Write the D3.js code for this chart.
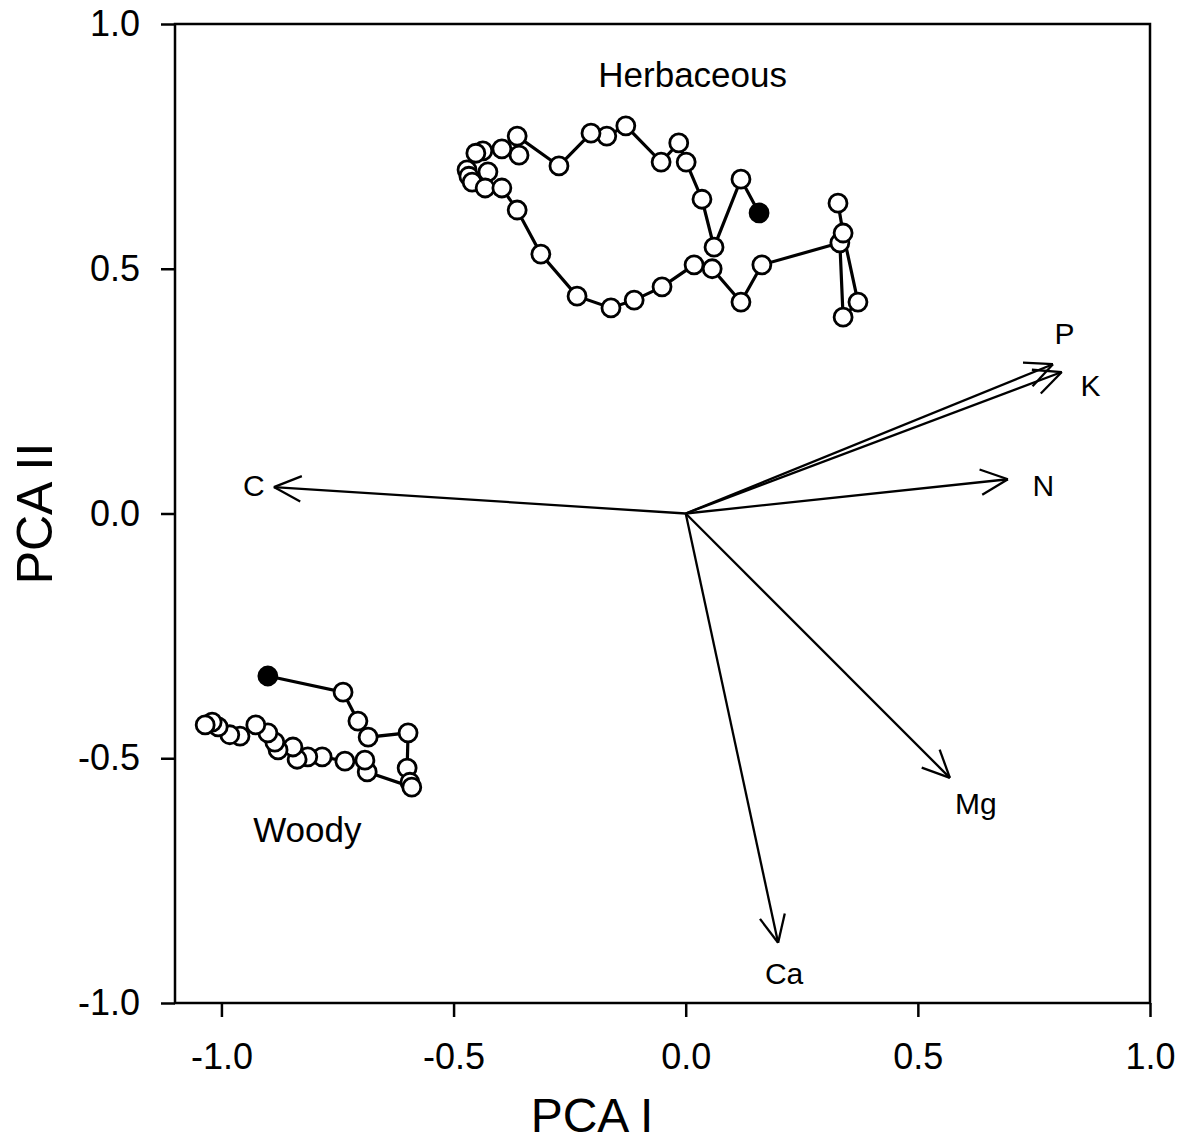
<!DOCTYPE html>
<html>
<head>
<meta charset="utf-8">
<script src="https://cdn.jsdelivr.net/npm/d3@7"></script>
<style>
  html, body { margin: 0; padding: 0; background: #fff; }
  svg { display: block; font-family: "Liberation Sans", Arial, sans-serif; }
</style>
</head>
<body>
<svg id="chart" width="1185" height="1143"></svg>
<script>
// ---- data ----
const xTicks = [-1.0, -0.5, 0.0, 0.5, 1.0];
const yTicks = [-1.0, -0.5, 0.0, 0.5, 1.0];

const herbX = [0.158, 0.119, 0.061, 0.035, 0.001, -0.015, -0.053, -0.129, -0.170, -0.204,
  -0.273, -0.363, -0.359, -0.396, -0.437, -0.452, -0.471, -0.467, -0.460, -0.426,
  -0.432, -0.396, -0.363, -0.312, -0.234, -0.161, -0.111, -0.051, 0.018, 0.057,
  0.119, 0.164, 0.332, 0.339, 0.371, 0.339, 0.328];
const herbY = [0.614, 0.683, 0.544, 0.642, 0.718, 0.757, 0.718, 0.792, 0.771, 0.777,
  0.710, 0.771, 0.732, 0.745, 0.741, 0.736, 0.702, 0.689, 0.677, 0.698,
  0.665, 0.665, 0.620, 0.530, 0.444, 0.420, 0.436, 0.463, 0.508, 0.500,
  0.432, 0.508, 0.553, 0.401, 0.432, 0.573, 0.634];

const woodyX = [-0.900, -0.738, -0.706, -0.684, -0.598, -0.600, -0.594, -0.590, -0.686, -0.691,
  -0.734, -0.783, -0.814, -0.837, -0.846, -0.878, -0.885, -0.900, -0.926, -0.960,
  -0.982, -1.007, -1.020, -1.035];
const woodyY = [-0.332, -0.365, -0.424, -0.457, -0.448, -0.520, -0.549, -0.559, -0.528, -0.504,
  -0.506, -0.497, -0.497, -0.502, -0.477, -0.483, -0.467, -0.448, -0.432, -0.455,
  -0.452, -0.436, -0.426, -0.432];

const vecNames = ["P", "K", "N", "C", "Mg", "Ca"];
const vecX = [0.791, 0.810, 0.694, -0.887, 0.569, 0.199];
const vecY = [0.305, 0.289, 0.070, 0.054, -0.540, -0.877];
const vecLabelX = [0.816, 0.872, 0.770, -0.930, 0.625, 0.212];
const vecLabelY = [0.369, 0.262, 0.058, 0.058, -0.592, -0.940];

const groupNames = ["Herbaceous", "Woody"];
const groupLabelX = [0.015, -0.815];
const groupLabelY = [0.898, -0.645];

// ---- chart ----
const svg = d3.select("#chart");
const mLeft = 175, mRight = 1150, mTop = 24, mBottom = 1003;
const x = d3.scaleLinear().domain([-1.1, 1.0]).range([mLeft, mRight]);
const y = d3.scaleLinear().domain([-1.0, 1.0]).range([mBottom, mTop]);
const fmt = v => d3.format(".1f")(v).replace("\u2212", "-");

// axes
const gx = svg.append("g").attr("transform", `translate(0,${mBottom})`)
  .call(d3.axisBottom(x).tickValues(xTicks).tickFormat(fmt).tickSize(14).tickSizeOuter(0).tickPadding(26));
const gy = svg.append("g").attr("transform", `translate(${mLeft},0)`)
  .call(d3.axisLeft(y).tickValues(yTicks).tickFormat(fmt).tickSize(14).tickSizeOuter(0).tickPadding(21));
[gx, gy].forEach(g => {
  g.selectAll(".domain").remove();
  g.selectAll(".tick line").attr("stroke", "#000").attr("stroke-width", 2.5);
  g.selectAll(".tick text").attr("fill", "#000")
    .style("font-family", "'Liberation Sans', Arial, sans-serif").style("font-size", "36px");
});

// frame
svg.append("rect").attr("x", mLeft).attr("y", mTop)
  .attr("width", mRight - mLeft).attr("height", mBottom - mTop)
  .attr("fill", "none").attr("stroke", "#000").attr("stroke-width", 2.5);

// axis titles
svg.append("text").attr("x", 592).attr("y", 1132)
  .attr("text-anchor", "middle").style("font-size", "48px").text("PCA I");
svg.append("text").attr("transform", `translate(52,${y(0)}) rotate(-90)`)
  .attr("text-anchor", "middle").style("font-size", "50px").text("PCA II");

// vectors
const vg = svg.append("g").attr("stroke", "#000").attr("stroke-width", 2.3).attr("fill", "none");
const ox = x(0), oy = y(0);
vecNames.forEach((n, i) => {
  const tx = x(vecX[i]), ty = y(vecY[i]);
  vg.append("line").attr("x1", ox).attr("y1", oy).attr("x2", tx).attr("y2", ty);
  const ang = Math.atan2(ty - oy, tx - ox);
  const L = 30, a = 25 * Math.PI / 180;
  [ang + Math.PI - a, ang + Math.PI + a].forEach(b => {
    vg.append("line").attr("x1", tx).attr("y1", ty)
      .attr("x2", tx + L * Math.cos(b)).attr("y2", ty + L * Math.sin(b));
  });
  svg.append("text").attr("x", x(vecLabelX[i])).attr("y", y(vecLabelY[i]))
    .attr("text-anchor", "middle").attr("dy", "0.36em")
    .style("font-size", "30px").text(n);
});

// trajectories
function drawSeries(xs, ys) {
  const pts = xs.map((v, i) => [x(v), y(ys[i])]);
  svg.append("path").attr("d", d3.line()(pts))
    .attr("fill", "none").attr("stroke", "#000").attr("stroke-width", 3.2);
  svg.append("g").selectAll("circle").data(pts).join("circle")
    .attr("cx", d => d[0]).attr("cy", d => d[1]).attr("r", 9)
    .attr("fill", (d, i) => i === 0 ? "#000" : "#fff")
    .attr("stroke", "#000").attr("stroke-width", 2.8);
}
drawSeries(herbX, herbY);
drawSeries(woodyX, woodyY);

// group labels
groupNames.forEach((n, i) => {
  svg.append("text").attr("x", x(groupLabelX[i])).attr("y", y(groupLabelY[i]))
    .attr("text-anchor", "middle").attr("dy", "0.36em")
    .style("font-size", "35px").text(n);
});
</script>
</body>
</html>
